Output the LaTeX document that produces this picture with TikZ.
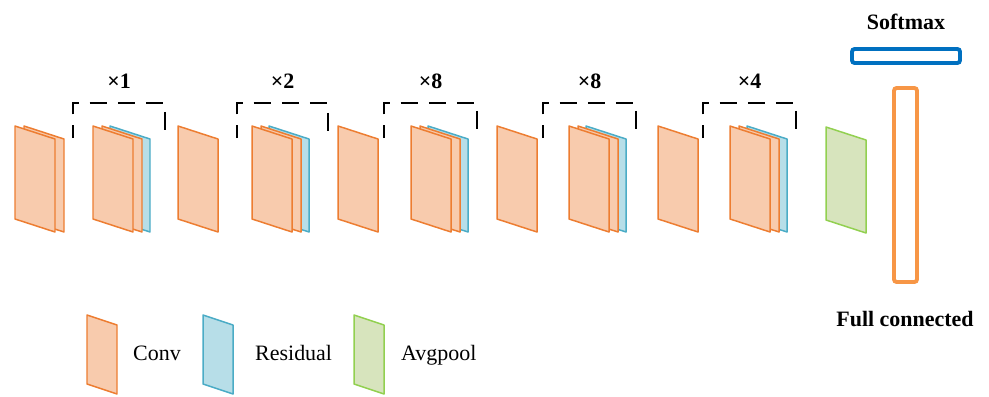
\documentclass[tikz,border=0pt]{standalone}
\usepackage{fontspec}
\setmainfont{Liberation Serif}
\usepackage{tikz}
\definecolor{convfill}{HTML}{F8CBAD}
\definecolor{convline}{HTML}{ED7D31}
\definecolor{resfill}{HTML}{B7DEE8}
\definecolor{resline}{HTML}{4BACC6}
\definecolor{poolfill}{HTML}{D7E4BD}
\definecolor{poolline}{HTML}{92D050}
\definecolor{smline}{HTML}{0070C0}
\definecolor{fcline}{HTML}{F79646}
% one feature map, left edge at x
\newcommand{\fmap}[2]{\filldraw[#1] (#2,126) -- ++(40,13) -- ++(0,93) -- ++(-40,-13) -- cycle;}
% small feature map for the legend
\newcommand{\keymap}[2]{\filldraw[#1] (#2,315) -- ++(30,10) -- ++(0,69) -- ++(-30,-10) -- cycle;}
% conv, conv, residual stacked
\newcommand{\resblock}[1]{\fmap{res}{#1+17}\fmap{conv}{#1+9}\fmap{conv}{#1}}
% dashed bracket with its repeat count
\newcommand{\repeatbox}[4]{%
  \draw[bracket] (#1,138) -- (#1,103) -- (#2,103) -- (#2,138);
  \node[lbl] (#4) at ({(#1+#2)/2},81) {×#3};}

\begin{document}
\begin{tikzpicture}[x=0.02cm,y=-0.02cm,
  every node/.style={font=\fontsize{12.5}{15}\selectfont},
  conv/.style={fill=convfill,draw=convline,line width=0.85pt,line join=round},
  res/.style={fill=resfill,draw=resline,line width=0.85pt,line join=round},
  pool/.style={fill=poolfill,draw=poolline,line width=0.85pt,line join=round},
  bracket/.style={line width=1.4pt,dash pattern=on 10pt off 6pt,dash phase=2.6pt},
  lbl/.style={font=\fontsize{12.5}{15}\selectfont\bfseries}]
  \useasboundingbox (0,0) rectangle (989,396);

  % first conv pair
  \fmap{conv}{24}\fmap{conv}{15}

  % residual stages
  \resblock{93}  \repeatbox{73}{165}{1}{rep1}
  \fmap{conv}{178}
  \resblock{252} \repeatbox{237}{328}{2}{rep2}
  \fmap{conv}{338}
  \resblock{411} \repeatbox{384}{477}{8}{rep3}
  \fmap{conv}{497}
  \resblock{569} \repeatbox{543}{636}{8}{rep4}
  \fmap{conv}{658}
  \resblock{730} \repeatbox{703}{796}{4}{rep5}

  % pooling, fc and softmax
  \filldraw[pool] (826,127) -- (866,140) -- (866,233) -- (826,220) -- cycle;
  \draw[fcline,line width=2.2pt,rounded corners=1.5pt] (894,88) rectangle (917,282);
  \draw[smline,line width=2.2pt,rounded corners=1.5pt] (852,49) rectangle (960,63);
  \node[lbl] (smax) at (906,22) {Softmax};
  \node[lbl] (fc) at (905,319) {Full connected};

  % legend
  \keymap{conv}{87}
  \node[anchor=base west] (kconv) at (127,360) {Conv};
  \keymap{res}{203}
  \node[anchor=base west] (kres) at (249,360) {Residual};
  \keymap{pool}{354}
  \node[anchor=base west] (kpool) at (395,360) {Avgpool};
\end{tikzpicture}
\end{document}
